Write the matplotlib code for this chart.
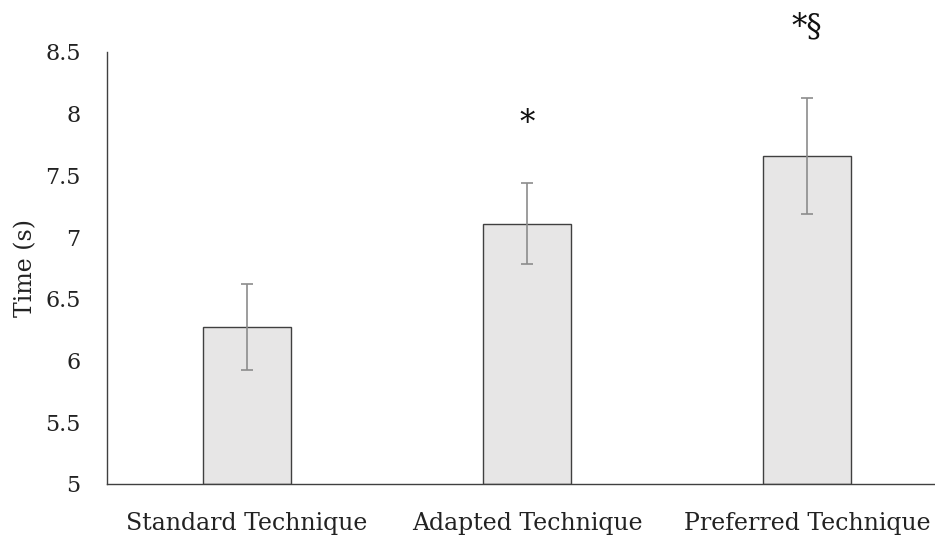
import matplotlib
matplotlib.use("Agg")
import matplotlib.pyplot as plt

# values
categories = ["Standard Technique", "Adapted Technique", "Preferred Technique"]
means = [6.27, 7.11, 7.66]
errors = [0.35, 0.33, 0.47]
marks = ["", "*", "*§"]
mark_y = [None, 7.92, 8.70]

plt.rcParams["font.family"] = ["DejaVu Serif"]

fig = plt.figure(figsize=(9.35, 5.38), dpi=100)
ax = fig.add_axes([107 / 935, 54 / 538, 840 / 935, 432 / 538])

x = range(len(categories))
ax.bar(x, [m - 5 for m in means], bottom=5, width=0.314, color="#e7e6e6",
       edgecolor="#404040", linewidth=1.0, zorder=2)
ax.errorbar(x, means, yerr=errors, fmt="none", ecolor="#8c8c8c",
            elinewidth=1.2, capsize=4.5, capthick=1.2, zorder=3)

for i, (m, y) in enumerate(zip(marks, mark_y)):
    if m:
        ax.text(i, y, m, ha="center", va="center", fontsize=22, color="#111111")

ax.set_xlim(-0.5, 2.5)
ax.set_ylim(5, 8.5)
ax.set_yticks([5, 5.5, 6, 6.5, 7, 7.5, 8, 8.5])
ax.set_yticklabels(["5", "5.5", "6", "6.5", "7", "7.5", "8", "8.5"])
ax.set_xticks(list(x))
ax.set_xticklabels(categories)
ax.tick_params(axis="both", length=0, colors="#222222")
ax.tick_params(axis="y", pad=19, labelsize=16)
ax.tick_params(axis="x", pad=20, labelsize=17)
ax.set_ylabel("Time (s)", fontsize=17, color="#222222", labelpad=6)

for side in ["top", "right"]:
    ax.spines[side].set_visible(False)
for side in ["left", "bottom"]:
    ax.spines[side].set_color("#404040")
    ax.spines[side].set_linewidth(1.0)

fig.savefig("out.png", dpi=100)
